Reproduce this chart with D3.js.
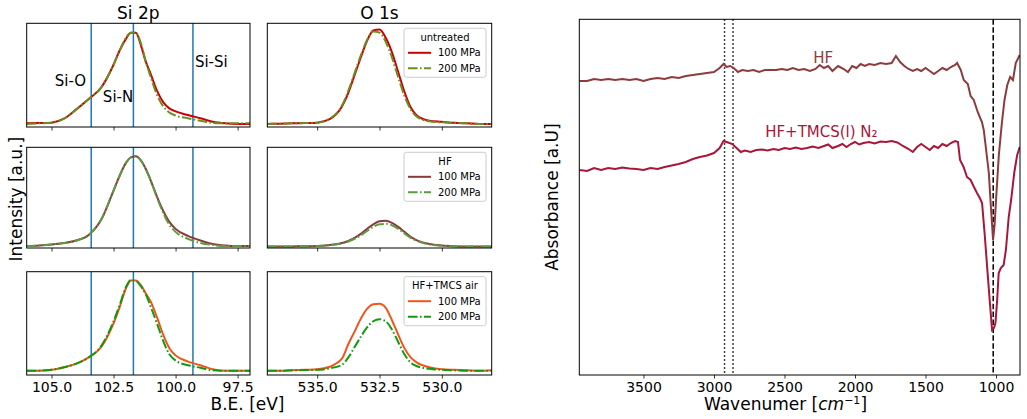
<!DOCTYPE html>
<html>
<head>
<meta charset="utf-8">
<script src="https://d3js.org/d3.v7.min.js"></script>
<style>
  body { margin: 0; background: #fff; }
  svg { font-family: "DejaVu Sans", sans-serif; }
</style>
</head>
<body>
<div id="vis"></div>
<script>
// ---- XPS data (binding energy in eV, intensity in a.u.) ----
var siBE = [106, 105.5, 105, 104.5, 104, 103.5, 103, 102.5, 102.25, 102, 101.8, 101.6, 101.4, 101.2, 101, 100.75, 100.5, 100.25, 100, 99.5, 99, 98.5, 98, 97.5, 97];
var siUntreated100 = [0.035, 0.038, 0.042, 0.08, 0.17, 0.27, 0.38, 0.60, 0.74, 0.85, 0.91, 0.91, 0.79, 0.63, 0.51, 0.35, 0.24, 0.18, 0.15, 0.115, 0.085, 0.05, 0.035, 0.03, 0.03];
var siUntreated200 = [0.03, 0.035, 0.04, 0.08, 0.17, 0.27, 0.38, 0.60, 0.74, 0.86, 0.91, 0.91, 0.81, 0.63, 0.48, 0.31, 0.20, 0.14, 0.11, 0.085, 0.06, 0.04, 0.035, 0.035, 0.035];
var siHF100 = [0.02, 0.025, 0.035, 0.05, 0.075, 0.13, 0.28, 0.57, 0.72, 0.845, 0.90, 0.91, 0.87, 0.785, 0.67, 0.51, 0.37, 0.26, 0.19, 0.12, 0.075, 0.04, 0.025, 0.02, 0.02];
var siHF200 = [0.02, 0.025, 0.035, 0.05, 0.075, 0.13, 0.28, 0.57, 0.72, 0.845, 0.90, 0.91, 0.87, 0.785, 0.67, 0.50, 0.35, 0.23, 0.16, 0.09, 0.05, 0.03, 0.02, 0.02, 0.02];
var siTMCS100 = [0.04, 0.042, 0.05, 0.075, 0.11, 0.17, 0.27, 0.50, 0.66, 0.84, 0.915, 0.915, 0.87, 0.79, 0.71, 0.56, 0.39, 0.26, 0.19, 0.13, 0.095, 0.055, 0.04, 0.04, 0.04];
var siTMCS200 = [0.04, 0.042, 0.05, 0.075, 0.11, 0.17, 0.28, 0.52, 0.68, 0.85, 0.92, 0.91, 0.86, 0.78, 0.66, 0.50, 0.33, 0.20, 0.14, 0.095, 0.07, 0.045, 0.04, 0.04, 0.04];

var oBE = [537, 536.5, 536, 535.5, 535, 534.5, 534, 533.75, 533.5, 533.25, 533, 532.75, 532.5, 532.25, 532, 531.75, 531.5, 531.25, 531, 530.5, 530, 529.5, 529, 528.5, 528];
var oUntreated100 = [0.03, 0.032, 0.035, 0.038, 0.042, 0.075, 0.20, 0.33, 0.50, 0.67, 0.83, 0.93, 0.94, 0.86, 0.72, 0.53, 0.34, 0.19, 0.11, 0.06, 0.05, 0.04, 0.035, 0.03, 0.03];
var oUntreated200 = [0.03, 0.032, 0.035, 0.038, 0.042, 0.08, 0.21, 0.35, 0.52, 0.69, 0.84, 0.92, 0.91, 0.82, 0.67, 0.48, 0.30, 0.17, 0.10, 0.055, 0.045, 0.04, 0.035, 0.03, 0.03];
var oHF100 = [0.015, 0.015, 0.016, 0.018, 0.02, 0.03, 0.05, 0.07, 0.10, 0.14, 0.19, 0.235, 0.265, 0.27, 0.25, 0.21, 0.16, 0.11, 0.075, 0.04, 0.025, 0.018, 0.015, 0.015, 0.015];
var oHF200 = [0.015, 0.015, 0.016, 0.018, 0.02, 0.028, 0.045, 0.065, 0.09, 0.125, 0.17, 0.21, 0.235, 0.24, 0.225, 0.19, 0.145, 0.10, 0.07, 0.035, 0.022, 0.017, 0.015, 0.015, 0.015];
var oTMCS100 = [0.04, 0.04, 0.045, 0.05, 0.055, 0.08, 0.16, 0.30, 0.42, 0.545, 0.64, 0.685, 0.69, 0.65, 0.53, 0.39, 0.26, 0.17, 0.12, 0.075, 0.055, 0.05, 0.045, 0.04, 0.045];
var oTMCS200 = [0.04, 0.04, 0.045, 0.048, 0.05, 0.065, 0.10, 0.17, 0.27, 0.37, 0.46, 0.52, 0.54, 0.52, 0.44, 0.32, 0.20, 0.12, 0.085, 0.06, 0.05, 0.045, 0.04, 0.04, 0.04];

var siPeaks = [103.4, 101.7, 99.3];
var siTicks = [105, 102.5, 100, 97.5];
var oTicks = [535, 532.5, 530];

var rowTitles = ["untreated", "HF", "HF+TMCS air"];
var colors100 = ["#cc0000", "#8b3a3a", "#f0561a"];
var colors200 = ["#6b8e23", "#5e9a42", "#119a11"];

// ---- FTIR data ----
var hfWn = [3954, 3900, 3850, 3800, 3750, 3700, 3650, 3600, 3550, 3500, 3450, 3400, 3350, 3300, 3250, 3200, 3150, 3100, 3050, 3000,
  2960, 2932, 2910, 2885, 2860, 2830, 2800, 2760, 2720, 2680, 2640, 2600, 2560, 2520, 2480, 2440, 2400, 2360, 2320, 2280,
  2250, 2220, 2190, 2160, 2120, 2080, 2050, 2020, 1990, 1960, 1930, 1900, 1860, 1820, 1780, 1740, 1710, 1680, 1650, 1620,
  1590, 1560, 1530, 1500, 1470, 1440, 1410, 1380, 1350, 1320, 1290, 1276, 1250, 1229, 1200, 1180, 1158, 1130, 1100, 1087,
  1070, 1051, 1035, 1021, 1010, 1000, 980, 960, 940, 920, 900, 880, 860, 832];
var hfAbs = [2.94, 2.94, 2.96, 2.95, 2.96, 2.95, 2.96, 2.95, 2.96, 2.94, 2.96, 2.97, 2.96, 2.98, 2.97, 2.99, 3.00, 3.01, 3.02, 3.03,
  3.07, 3.11, 3.08, 3.09, 3.07, 3.03, 3.05, 3.04, 3.05, 3.03, 3.05, 3.05, 3.05, 3.06, 3.05, 3.07, 3.05, 3.06, 3.04, 3.06,
  3.10, 3.07, 3.09, 3.04, 3.09, 3.06, 3.03, 3.09, 3.07, 3.11, 3.09, 3.11, 3.10, 3.12, 3.11, 3.12, 3.19, 3.13, 3.09, 3.06,
  3.04, 3.06, 3.04, 3.07, 3.04, 3.01, 3.04, 3.07, 3.05, 3.08, 3.10, 3.12, 3.05, 2.95, 2.91, 2.79, 2.75, 2.63, 2.53, 2.45,
  2.25, 2.02, 1.65, 1.35, 1.50, 1.75, 2.20, 2.50, 2.75, 2.90, 2.98, 2.95, 3.12, 3.20];

var tmcsWn = [3954, 3900, 3850, 3800, 3750, 3700, 3650, 3600, 3550, 3500, 3450, 3400, 3350, 3300, 3250, 3200, 3150, 3100, 3050, 3000,
  2960, 2932, 2900, 2870, 2840, 2810, 2780, 2740, 2700, 2660, 2620, 2580, 2540, 2500, 2460, 2420, 2380, 2340, 2300, 2260,
  2220, 2190, 2160, 2120, 2090, 2060, 2030, 2000, 1970, 1940, 1900, 1860, 1820, 1780, 1740, 1700, 1660, 1620, 1590, 1560,
  1530, 1500, 1470, 1440, 1410, 1380, 1350, 1320, 1290, 1270, 1255, 1230, 1206, 1180, 1160, 1135, 1115, 1099, 1080, 1063,
  1045, 1028, 1015, 1004, 992, 981, 966, 946, 930, 910, 893, 870, 850, 832];
var tmcsAbs = [2.05, 2.04, 2.07, 2.05, 2.07, 2.06, 2.075, 2.065, 2.06, 2.05, 2.07, 2.06, 2.08, 2.095, 2.11, 2.13, 2.16, 2.18, 2.195, 2.22,
  2.27, 2.34, 2.325, 2.31, 2.27, 2.23, 2.245, 2.23, 2.25, 2.255, 2.245, 2.26, 2.25, 2.27, 2.26, 2.275, 2.26, 2.27, 2.285, 2.27,
  2.29, 2.305, 2.27, 2.29, 2.31, 2.28, 2.31, 2.33, 2.305, 2.32, 2.33, 2.315, 2.335, 2.33, 2.34, 2.325, 2.29, 2.26, 2.23, 2.28,
  2.31, 2.28, 2.25, 2.29, 2.27, 2.31, 2.29, 2.32, 2.34, 2.33, 2.15, 2.08, 1.98, 1.95, 1.89, 1.82, 1.77, 1.72, 1.40, 1.08,
  0.75, 0.45, 0.47, 0.52, 0.75, 1.02, 1.07, 1.10, 1.25, 1.58, 1.75, 2.03, 2.20, 2.28];

var dottedLines = [2925, 2865];
var dashedLines = [1020];
var ftirTicks = [3500, 3000, 2500, 2000, 1500, 1000];

var W = 1027, H = 419;
var svg = d3.select("#vis").append("svg").attr("width", W).attr("height", H);

var cols = [[26.7, 250], [267.3, 491.7]];
var rows = [[23.3, 127], [147.3, 248], [271.7, 375]];

var siData = [[siUntreated100, siUntreated200], [siHF100, siHF200], [siTMCS100, siTMCS200]];
var oData = [[oUntreated100, oUntreated200], [oHF100, oHF200], [oTMCS100, oTMCS200]];

var clipId = 0;
function panel(xr, yr, xDomain, ticks, showLabels) {
  var g = svg.append("g");
  var x = d3.scaleLinear().domain(xDomain).range(xr);
  var y = d3.scaleLinear().domain([0, 1]).range([yr[1], yr[0]]);
  var id = "clip" + (clipId++);
  g.append("clipPath").attr("id", id).append("rect")
    .attr("x", xr[0]).attr("y", yr[0]).attr("width", xr[1] - xr[0]).attr("height", yr[1] - yr[0]);
  var axis = d3.axisBottom(x).tickValues(ticks).tickSizeOuter(0).tickSize(3.5).tickPadding(3.5)
    .tickFormat(showLabels ? d3.format(".1f") : "");
  var ag = g.append("g").attr("transform", "translate(0," + yr[1] + ")").call(axis);
  ag.select(".domain").remove();
  ag.selectAll("line").attr("stroke", "#000").attr("stroke-width", 0.8);
  ag.selectAll("text").attr("font-size", 14).attr("fill", "#000").attr("font-family", "DejaVu Sans");
  return { g: g, x: x, y: y, clip: "url(#" + id + ")", xr: xr, yr: yr };
}
function frame(p) {
  p.g.append("rect").attr("x", p.xr[0]).attr("y", p.yr[0])
    .attr("width", p.xr[1] - p.xr[0]).attr("height", p.yr[1] - p.yr[0])
    .attr("fill", "none").attr("stroke", "#000").attr("stroke-width", 1);
}
function curve(p, xs, ys, color, dashed) {
  var line = d3.line().x(function(d, i){ return p.x(xs[i]); }).y(function(d){ return p.y(d); })
    .curve(d3.curveMonotoneX);
  p.g.append("path").datum(ys).attr("d", line).attr("fill", "none")
    .attr("stroke", color).attr("stroke-width", 2).attr("clip-path", p.clip)
    .attr("stroke-dasharray", dashed ? "9.6,2.4,1.6,2.4" : null);
}
function legend(p, top, title, c1, c2) {
  var left = 404, w = 82, h = 49;
  var lg = p.g.append("g");
  lg.append("rect").attr("x", left).attr("y", top).attr("width", w).attr("height", h)
    .attr("rx", 2.5).attr("fill", "#fff").attr("fill-opacity", 0.8)
    .attr("stroke", "#cccccc").attr("stroke-width", 1);
  lg.append("text").attr("x", left + w / 2).attr("y", top + 12.5).attr("text-anchor", "middle")
    .attr("font-size", 10).text(title);
  [[c1, false, "100 MPa"], [c2, true, "200 MPa"]].forEach(function(e, i){
    var yy = top + 24.5 + i * 15.5;
    lg.append("line").attr("x1", left + 4).attr("x2", left + 27).attr("y1", yy).attr("y2", yy)
      .attr("stroke", e[0]).attr("stroke-width", 2).attr("stroke-dasharray", e[1] ? "9.6,2.4,1.6,2.4" : null);
    lg.append("text").attr("x", left + 34).attr("y", yy + 3.6).attr("font-size", 10).text(e[2]);
  });
}

rows.forEach(function(yr, r){
  var last = r === rows.length - 1;
  var ps = panel(cols[0], yr, [106, 97], siTicks, last);
  siPeaks.forEach(function(v){
    ps.g.append("line").attr("x1", ps.x(v)).attr("x2", ps.x(v)).attr("y1", yr[0]).attr("y2", yr[1])
      .attr("stroke", "#1f77b4").attr("stroke-width", 1.5);
  });
  curve(ps, siBE, siData[r][0], colors100[r], false);
  curve(ps, siBE, siData[r][1], colors200[r], true);
  frame(ps);
  if (r === 0) {
    ps.g.append("text").attr("x", ps.x(104.87)).attr("y", ps.y(0.40)).attr("font-size", 15).text("Si-O");
    ps.g.append("text").attr("x", ps.x(102.93)).attr("y", ps.y(0.24)).attr("font-size", 15).text("Si-N");
    ps.g.append("text").attr("x", ps.x(99.22)).attr("y", ps.y(0.58)).attr("font-size", 15).text("Si-Si");
  }

  var po = panel(cols[1], yr, [537, 528], oTicks, last);
  curve(po, oBE, oData[r][0], colors100[r], false);
  curve(po, oBE, oData[r][1], colors200[r], true);
  frame(po);
  legend(po, yr[0] + 5, rowTitles[r], colors100[r], colors200[r]);
});

svg.append("text").attr("x", (cols[0][0] + cols[0][1]) / 2).attr("y", 19).attr("text-anchor", "middle")
  .attr("font-size", 17).text("Si 2p");
svg.append("text").attr("x", (cols[1][0] + cols[1][1]) / 2).attr("y", 19).attr("text-anchor", "middle")
  .attr("font-size", 17).text("O 1s");
svg.append("text").attr("x", 247.5).attr("y", 410).attr("text-anchor", "middle")
  .attr("font-size", 17).text("B.E. [eV]");
svg.append("text").attr("transform", "translate(22," + ((rows[0][0] + rows[2][1]) / 2) + ") rotate(-90)")
  .attr("text-anchor", "middle").attr("font-size", 17).text("Intensity [a.u.]");

// ---- FTIR panel ----
var fx = d3.scaleLinear().domain([3955, 830]).range([579.3, 1020]);
var fy = d3.scaleLinear().domain([0, 3.557]).range([375, 19.3]);
var fg = svg.append("g");
fg.append("clipPath").attr("id", "fclip").append("rect")
  .attr("x", 579.3).attr("y", 19.3).attr("width", 1020 - 579.3).attr("height", 375 - 19.3);
var fAxis = d3.axisBottom(fx).tickValues(ftirTicks).tickSizeOuter(0).tickSize(3.5).tickPadding(3.5)
  .tickFormat(d3.format("d"));
var fag = fg.append("g").attr("transform", "translate(0,375)").call(fAxis);
fag.select(".domain").remove();
fag.selectAll("line").attr("stroke", "#000").attr("stroke-width", 0.8);
fag.selectAll("text").attr("font-size", 14).attr("fill", "#000").attr("font-family", "DejaVu Sans");

dottedLines.forEach(function(v){
  fg.append("line").attr("x1", fx(v)).attr("x2", fx(v)).attr("y1", 19.3).attr("y2", 375)
    .attr("stroke", "#000").attr("stroke-width", 1.5).attr("stroke-dasharray", "1.5,2.5");
});
dashedLines.forEach(function(v){
  fg.append("line").attr("x1", fx(v)).attr("x2", fx(v)).attr("y1", 19.3).attr("y2", 375)
    .attr("stroke", "#000").attr("stroke-width", 1.5).attr("stroke-dasharray", "5.5,2.4");
});

var ftirLine = function(xs){
  return d3.line().x(function(d, i){ return fx(xs[i]); }).y(function(d){ return fy(d); });
};
fg.append("path").datum(tmcsAbs).attr("d", ftirLine(tmcsWn)).attr("fill", "none")
  .attr("stroke", "#a8163a").attr("stroke-width", 2).attr("clip-path", "url(#fclip)");
fg.append("path").datum(hfAbs).attr("d", ftirLine(hfWn)).attr("fill", "none")
  .attr("stroke", "#8e3b3e").attr("stroke-width", 2).attr("clip-path", "url(#fclip)");

fg.append("text").attr("x", fx(2296)).attr("y", fy(3.12)).attr("font-size", 15)
  .attr("fill", "#8e3b3e").text("HF");
fg.append("text").attr("x", fx(2637)).attr("y", fy(2.38)).attr("font-size", 15)
  .attr("fill", "#a8163a").text("HF+TMCS(l) N\u2082");

fg.append("rect").attr("x", 579.3).attr("y", 19.3).attr("width", 1020 - 579.3).attr("height", 375 - 19.3)
  .attr("fill", "none").attr("stroke", "#000").attr("stroke-width", 1);

var xl = svg.append("text").attr("x", 785.5).attr("y", 410).attr("text-anchor", "middle").attr("font-size", 17);
xl.append("tspan").text("Wavenumer [");
xl.append("tspan").attr("font-style", "italic").text("cm");
xl.append("tspan").attr("font-size", 11).attr("dy", -6).text("\u22121");
xl.append("tspan").attr("dy", 6).text("]");
svg.append("text").attr("transform", "translate(558," + ((19.3 + 375) / 2) + ") rotate(-90)")
  .attr("text-anchor", "middle").attr("font-size", 17).text("Absorbance [a.U]");
</script>
</body>
</html>
